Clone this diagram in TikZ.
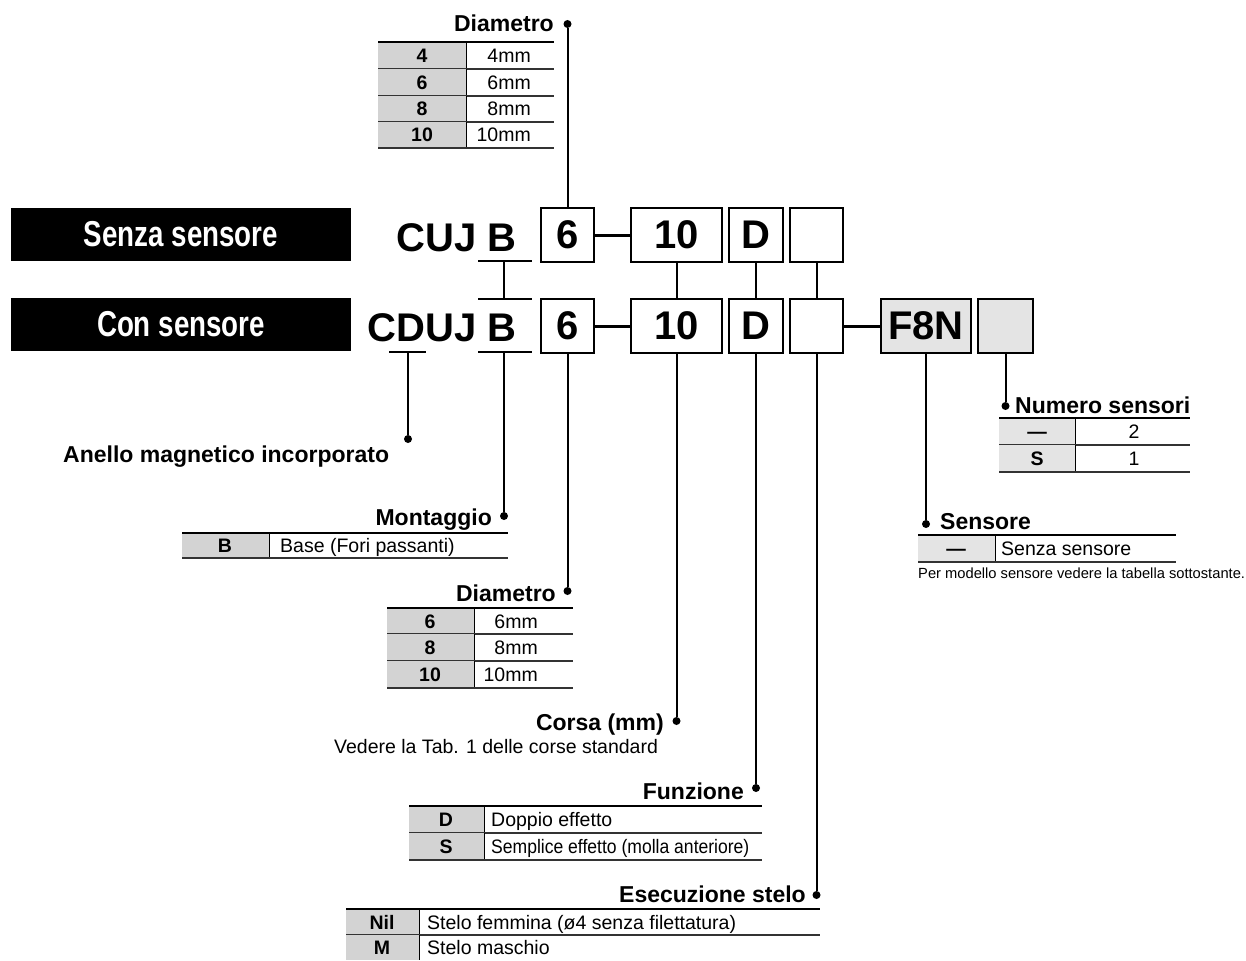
\documentclass[tikz,border=0pt]{standalone}
\usepackage{graphicx}
\usepackage{fontspec}
\setmainfont{Liberation Sans}
\definecolor{tgray}{HTML}{D3D3D3}
\definecolor{lgray}{HTML}{E4E4E4}
\newcommand\mytab[6]{%
  \fill[#6] (#1,#4) rectangle (#2,#5);
  \draw[line width=1pt] (#2,#4) -- (#2,#5);
  \draw[line width=1.2pt,black!80] (#1,#5) -- (#3,#5);
}
\tikzset{
  big/.style={font=\fontsize{40}{48}\selectfont\bfseries, inner sep=0pt},
  cbox/.style={draw, line width=2pt, minimum height=54pt, inner sep=0pt, big},
  head/.style={font=\fontsize{23}{27}\selectfont\bfseries, inner sep=0pt},
  ttxt/.style={font=\fontsize{19.5}{23}\selectfont, inner sep=0pt},
  tkey/.style={font=\fontsize{19.5}{23}\selectfont\bfseries, inner sep=0pt},
  dot/.style={circle, fill=black, inner sep=0pt, minimum size=8pt},
  conn/.style={line width=2pt},
  hyph/.style={line width=3pt},
  topline/.style={line width=2.2pt},
  title/.style={fill=black, text=white, minimum width=340pt, minimum height=53pt, inner sep=0pt,
    font=\fontsize{36}{42}\selectfont\bfseries}
}
\begin{document}
\begin{tikzpicture}[x=1pt,y=-1pt]
\useasboundingbox (0,0) rectangle (1246,960);

% titles
\node[title] (t1) at (181,234.5) {\scalebox{0.77}[1]{Senza sensore}};
\node[title] (t2) at (181,324.5) {\scalebox{0.77}[1]{Con sensore}};

% row 1
\node[big, anchor=base east] (cuj) at (477,251) {CUJ};
\node[big, anchor=base east] (B1) at (517,251) {B};
\node[cbox, minimum width=53pt] (b6a) at (567.5,235) {6};
\node[cbox, minimum width=91pt] (b10a) at (676.5,235) {10};
\node[cbox, minimum width=54pt] (bDa) at (756,235) {D};
\node[cbox, minimum width=53pt] (bEa) at (816.5,235) {};

% row 2
\node[big, anchor=base east] (cduj) at (477,341) {CDUJ};
\node[big, anchor=base east] (B2) at (517,341) {B};
\node[cbox, minimum width=53pt] (b6b) at (567.5,326) {6};
\node[cbox, minimum width=91pt] (b10b) at (676.5,326) {10};
\node[cbox, minimum width=54pt] (bDb) at (756,326) {D};
\node[cbox, minimum width=53pt] (bEb) at (816.5,326) {};
\node[cbox, minimum width=90pt, fill=lgray] (f8n) at (926,326) {F8N};
\node[cbox, minimum width=55pt, fill=lgray] (bNs) at (1005.5,326) {};

% hyphens
\draw[hyph] (b6a) -- (b10a);
\draw[hyph] (b6b) -- (b10b);
\draw[hyph] (bEb) -- (f8n);

% underlines
\coordinate (u1l) at (478,261); \coordinate (u1r) at (532,261);
\coordinate (u2l) at (478,299); \coordinate (u2r) at (532,299);
\coordinate (u3l) at (478,352); \coordinate (u3r) at (532,352);
\coordinate (udl) at (389,352); \coordinate (udr) at (426,352);
\coordinate (ub1) at (504,261); \coordinate (ub2) at (504,299);
\coordinate (ub3) at (504,352); \coordinate (ud) at (408,352);
\draw[conn] (u1l) -- (u1r);
\draw[conn] (u2l) -- (u2r);
\draw[conn] (u3l) -- (u3r);
\draw[conn] (udl) -- (udr);

% row connections
\draw[conn] (ub1) -- (ub2);
\draw[conn] (b10a) -- (b10b);
\draw[conn] (bDa) -- (bDb);
\draw[conn] (bEa) -- (bEb);

% dots
\node[dot] (dTop) at (567.5,24) {};
\node[dot] (dAn) at (408,439) {};
\node[dot] (dMo) at (504,516) {};
\node[dot] (dDi) at (567.5,591) {};
\node[dot] (dCo) at (676.5,721) {};
\node[dot] (dFu) at (756,788) {};
\node[dot] (dEs) at (816.5,895) {};
\node[dot] (dSe) at (926,524) {};
\node[dot] (dNu) at (1005.5,406) {};

\draw[conn] (dTop) -- (b6a);
\draw[conn] (ud) -- (dAn);
\draw[conn] (ub3) -- (dMo);
\draw[conn] (b6b) -- (dDi);
\draw[conn] (b10b) -- (dCo);
\draw[conn] (bDb) -- (dFu);
\draw[conn] (bEb) -- (dEs);
\draw[conn] (f8n) -- (dSe);
\draw[conn] (bNs) -- (dNu);

% ---- Diametro (top)
\node[head, anchor=base east] (hDi1) at (554,32) {Diametro};
\mytab{378}{466}{554}{42}{69}{tgray}
\mytab{378}{466}{554}{69}{96}{tgray}
\mytab{378}{466}{554}{96}{122}{tgray}
\mytab{378}{466}{554}{122}{148}{tgray}
\draw[topline] (378,42) -- (554,42);
\node[tkey, anchor=base] (a1k) at (422,62.5) {4};
\node[tkey, anchor=base] (a2k) at (422,89.5) {6};
\node[tkey, anchor=base] (a3k) at (422,116) {8};
\node[tkey, anchor=base] (a4k) at (422,142) {10};
\node[ttxt, anchor=base east] (a1v) at (531,62.5) {4mm};
\node[ttxt, anchor=base east] (a2v) at (531,89.5) {6mm};
\node[ttxt, anchor=base east] (a3v) at (531,116) {8mm};
\node[ttxt, anchor=base east] (a4v) at (531,142) {10mm};

% ---- Anello
\node[head, anchor=base west] (hAn) at (63,462) {Anello magnetico incorporato};

% ---- Montaggio
\node[head, anchor=base east] (hMo) at (492,525) {Montaggio};
\mytab{182}{269}{508}{533}{558}{tgray}
\draw[topline] (182,533) -- (508,533);
\node[tkey, anchor=base] (m1k) at (225,552.5) {B};
\node[ttxt, anchor=base west] (m1v) at (280,552.5) {Base (Fori passanti)};

% ---- Diametro (2)
\node[head, anchor=base east] (hDi2) at (556,601) {Diametro};
\mytab{387}{474}{573}{608}{634}{tgray}
\mytab{387}{474}{573}{634}{661}{tgray}
\mytab{387}{474}{573}{661}{688}{tgray}
\draw[topline] (387,608) -- (573,608);
\node[tkey, anchor=base] (c1k) at (430,628) {6};
\node[tkey, anchor=base] (c2k) at (430,654.5) {8};
\node[tkey, anchor=base] (c3k) at (430,681.5) {10};
\node[ttxt, anchor=base east] (c1v) at (538,628) {6mm};
\node[ttxt, anchor=base east] (c2v) at (538,654.5) {8mm};
\node[ttxt, anchor=base east] (c3v) at (538,681.5) {10mm};

% ---- Corsa
\node[head, anchor=base east] (hCo) at (664,730) {Corsa (mm)};
\node[ttxt, anchor=base west] (nCo) at (334,753) {Vedere la Tab. 1 delle corse standard};

% ---- Funzione
\node[head, anchor=base east] (hFu) at (744,799) {Funzione};
\mytab{409}{484}{762}{806}{833}{tgray}
\mytab{409}{484}{762}{833}{860}{tgray}
\draw[topline] (409,806) -- (762,806);
\node[tkey, anchor=base] (f1k) at (446,826.5) {D};
\node[tkey, anchor=base] (f2k) at (446,853.5) {S};
\node[ttxt, anchor=base west] (f1v) at (491,826.5) {Doppio effetto};
\node[ttxt, anchor=base west] (f2v) at (491,853.5) {\scalebox{0.9}[1]{Semplice effetto (molla anteriore)}};

% ---- Esecuzione stelo
\node[head, anchor=base east] (hEs) at (806,902) {Esecuzione stelo};
\mytab{346}{419}{820}{909}{935}{tgray}
\fill[tgray] (346,935) rectangle (419,960);
\draw[line width=1pt] (419,935) -- (419,960);
\draw[topline] (346,909) -- (820,909);
\node[tkey, anchor=base] (e1k) at (382,929) {Nil};
\node[tkey, anchor=base] (e2k) at (382,954.5) {M};
\node[ttxt, anchor=base west] (e1v) at (427,929) {Stelo femmina (ø4 senza filettatura)};
\node[ttxt, anchor=base west] (e2v) at (427,954.5) {Stelo maschio};

% ---- Numero sensori
\node[head, anchor=base west] (hNu) at (1015,413) {Numero sensori};
\mytab{999}{1075}{1190}{418}{445}{lgray}
\mytab{999}{1075}{1190}{445}{472}{lgray}
\draw[topline] (999,418) -- (1190,418);
\node[tkey, anchor=base] (n1k) at (1037,438.5) {—};
\node[tkey, anchor=base] (n2k) at (1037,465.5) {S};
\node[ttxt, anchor=base] (n1v) at (1134,438.5) {2};
\node[ttxt, anchor=base] (n2v) at (1134,465.5) {1};

% ---- Sensore
\node[head, anchor=base west] (hSe) at (940,529) {Sensore};
\mytab{918}{995}{1176}{535}{562}{lgray}
\draw[topline] (918,535) -- (1176,535);
\node[tkey, anchor=base] (s1k) at (956,555.5) {—};
\node[ttxt, anchor=base west] (s1v) at (1001,555.5) {Senza sensore};
\node[font=\fontsize{14.7}{17}\selectfont, inner sep=0pt, anchor=base west] (sNote) at (918,578) {Per modello sensore vedere la tabella sottostante.};
\end{tikzpicture}
\end{document}
